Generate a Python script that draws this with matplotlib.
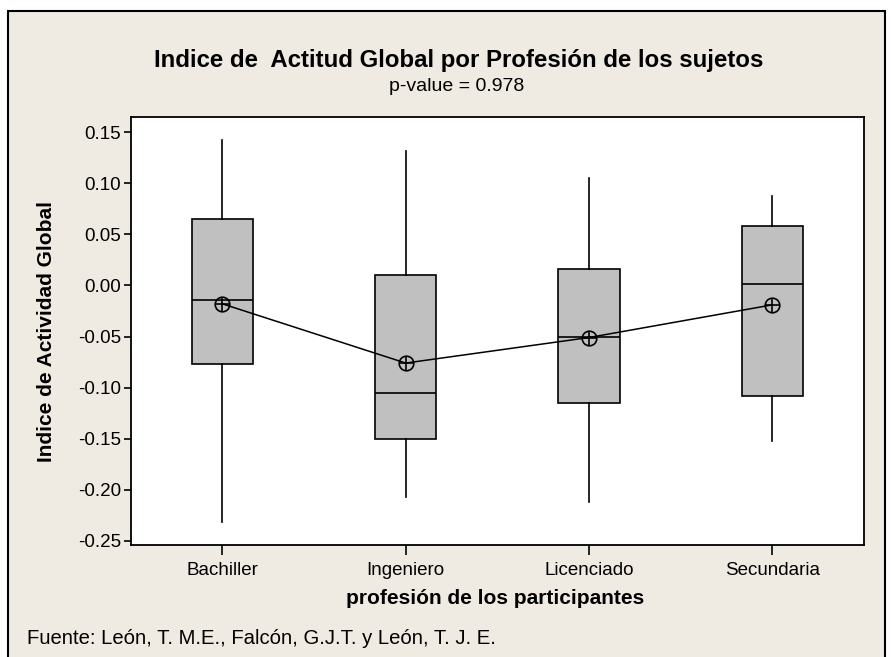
import matplotlib
matplotlib.use("Agg")
import matplotlib.pyplot as plt
from matplotlib.patches import Rectangle

categories = ["Bachiller", "Ingeniero", "Licenciado", "Secundaria"]
whisker_low = [-0.232, -0.207, -0.212, -0.152]
q1 = [-0.077, -0.150, -0.115, -0.108]
median = [-0.014, -0.105, -0.050, 0.001]
q3 = [0.065, 0.010, 0.016, 0.058]
whisker_high = [0.142, 0.132, 0.105, 0.088]
means = [-0.018, -0.076, -0.051, -0.019]
yticks = [0.15, 0.10, 0.05, 0.00, -0.05, -0.10, -0.15, -0.20, -0.25]

bg = "#EFEBE2"
fam = ["Liberation Sans", "DejaVu Sans"]
fig = plt.figure(figsize=(8.93, 6.57), dpi=100, facecolor="white")
fig.patches.append(Rectangle((8/893, -0.01), (885-8)/893, 1.01-11/657, transform=fig.transFigure,
                             facecolor=bg, edgecolor="black", linewidth=1.5, zorder=-5))

ax = fig.add_axes([130.7/893, 1-545.3/657, (864-130.7)/893, (545.3-117.3)/657])
ax.set_zorder(2)
ax.set_facecolor("white")

stats = []
for i, c in enumerate(categories):
    stats.append(dict(label=c, whislo=whisker_low[i], q1=q1[i], med=median[i],
                      q3=q3[i], whishi=whisker_high[i], fliers=[]))
pos = list(range(1, len(categories) + 1))
ax.bxp(stats, positions=pos, widths=0.335, patch_artist=True, showcaps=False,
       boxprops=dict(facecolor="#C0C0C0", edgecolor="black", linewidth=1.2),
       medianprops=dict(color="black", linewidth=1.2),
       whiskerprops=dict(color="black", linewidth=1.2))

ax.plot(pos, means, color="black", linewidth=1.1, zorder=5)
ax.plot(pos, means, linestyle="none", marker="o", markersize=10.5, markerfacecolor="none",
        markeredgecolor="black", markeredgewidth=1.2, zorder=6)
ax.plot(pos, means, linestyle="none", marker="+", markersize=10.5,
        markeredgecolor="black", markeredgewidth=1.2, zorder=6)

ax.set_xlim(0.5, 4.5)
ax.set_ylim(-0.2545, 0.1647)
ax.set_yticks(yticks)
ax.set_yticklabels([f"{v:.2f}" for v in yticks], fontsize=13.5, family=fam)
ax.set_xticks(pos)
ax.set_xticklabels(categories, fontsize=13.5, family=fam)
ax.tick_params(axis="y", direction="out", length=5, width=1.2, pad=2)
ax.tick_params(axis="x", direction="out", length=7, width=1.2, pad=5)
for s in ax.spines.values():
    s.set_linewidth(1.3)

fig.text(46.7/893, 1-331/657, "Indice de Actividad Global", rotation=90,
         ha="center", va="center", fontsize=15, fontweight="bold", family=fam)
fig.text(495/893, 1-598/657, "profesión de los participantes", ha="center", va="center",
         fontsize=15, fontweight="bold", family=fam)
fig.text(459/893, 1-60/657, "Indice de  Actitud Global por Profesión de los sujetos", ha="center",
         va="center", fontsize=17.3, fontweight="bold", family=fam)
fig.text(457/893, 1-86.5/657, "p-value = 0.978", ha="center", va="center", fontsize=14,
         family=fam)
fig.text(27/893, 1-638/657, "Fuente: León, T. M.E., Falcón, G.J.T. y León, T. J. E.", ha="left",
         va="center", fontsize=14.6, family=fam)

fig.savefig("out.png", dpi=100, facecolor=fig.get_facecolor())
